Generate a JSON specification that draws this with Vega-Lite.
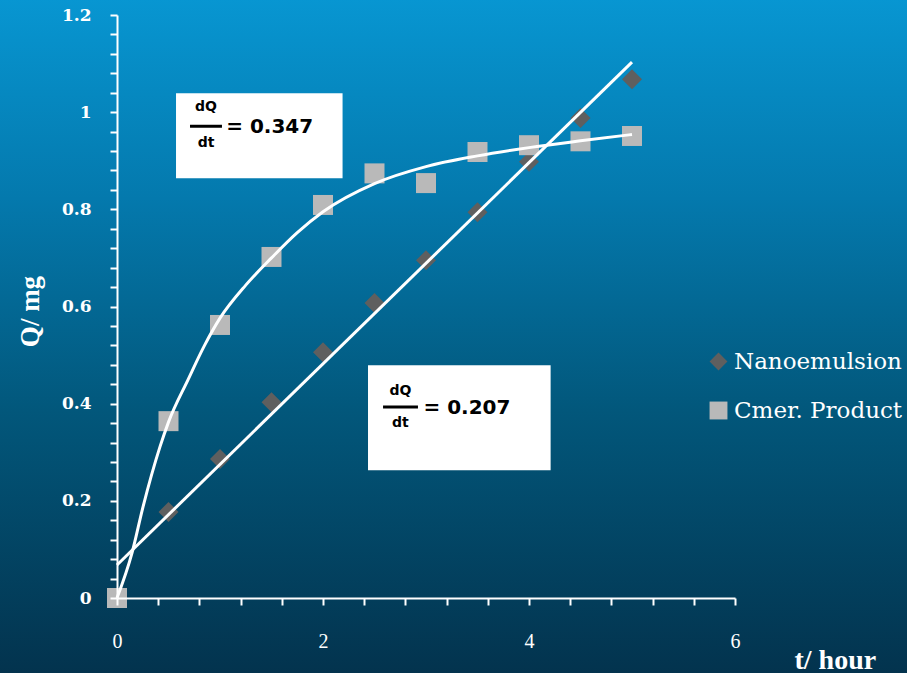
{
  "$schema": "https://vega.github.io/schema/vega-lite/v6.json",
  "autosize": {"type": "none"},
  "width": 618,
  "height": 583,
  "padding": {"left": 117, "top": 15, "right": 172, "bottom": 75},
  "background": "#03304a",
  "config": {"view": {"stroke": null}},
  "datasets": {
    "bg": [{"x": -1.2, "x2": 7.8, "y": 1.26, "y2": -0.2}],
    "boxes": [
      {"x": 0.573, "x2": 2.19, "y": 1.039, "y2": 0.864},
      {"x": 2.437, "x2": 4.21, "y": 0.479, "y2": 0.263}
    ],
    "fracs": [
      {"x": 0.709, "x2": 1.019, "y": 0.971},
      {"x": 2.583, "x2": 2.922, "y": 0.393}
    ],
    "smalltext": [
      {"x": 0.864, "y": 1.010, "label": "dQ"},
      {"x": 0.864, "y": 0.936, "label": "dt"},
      {"x": 2.752, "y": 0.426, "label": "dQ"},
      {"x": 2.752, "y": 0.360, "label": "dt"}
    ],
    "bigtext": [
      {"x": 1.06, "y": 0.969, "label": "= 0.347"},
      {"x": 2.975, "y": 0.391, "label": "= 0.207"}
    ],
    "points": [
      {"x": 0, "y": 0, "series": "Nanoemulsion"},
      {"x": 0.5, "y": 0.177, "series": "Nanoemulsion"},
      {"x": 1, "y": 0.286, "series": "Nanoemulsion"},
      {"x": 1.5, "y": 0.403, "series": "Nanoemulsion"},
      {"x": 2, "y": 0.506, "series": "Nanoemulsion"},
      {"x": 2.5, "y": 0.607, "series": "Nanoemulsion"},
      {"x": 3, "y": 0.695, "series": "Nanoemulsion"},
      {"x": 3.5, "y": 0.794, "series": "Nanoemulsion"},
      {"x": 4, "y": 0.898, "series": "Nanoemulsion"},
      {"x": 4.5, "y": 0.988, "series": "Nanoemulsion"},
      {"x": 5, "y": 1.068, "series": "Nanoemulsion"},
      {"x": 0, "y": 0, "series": "Cmer. Product"},
      {"x": 0.5, "y": 0.364, "series": "Cmer. Product"},
      {"x": 1, "y": 0.562, "series": "Cmer. Product"},
      {"x": 1.5, "y": 0.702, "series": "Cmer. Product"},
      {"x": 2, "y": 0.809, "series": "Cmer. Product"},
      {"x": 2.5, "y": 0.874, "series": "Cmer. Product"},
      {"x": 3, "y": 0.854, "series": "Cmer. Product"},
      {"x": 3.5, "y": 0.918, "series": "Cmer. Product"},
      {"x": 4, "y": 0.932, "series": "Cmer. Product"},
      {"x": 4.5, "y": 0.940, "series": "Cmer. Product"},
      {"x": 5, "y": 0.951, "series": "Cmer. Product"}
    ],
    "lines": [
      {"x": 0, "y": 0.068, "series": "linear"},
      {"x": 5, "y": 1.103, "series": "linear"},
      {"x": 0, "y": 0, "series": "curve"},
      {"x": 0.146, "y": 0.093, "series": "curve"},
      {"x": 0.252, "y": 0.187, "series": "curve"},
      {"x": 0.417, "y": 0.311, "series": "curve"},
      {"x": 0.5, "y": 0.362, "series": "curve"},
      {"x": 0.689, "y": 0.449, "series": "curve"},
      {"x": 0.85, "y": 0.52, "series": "curve"},
      {"x": 1, "y": 0.576, "series": "curve"},
      {"x": 1.25, "y": 0.644, "series": "curve"},
      {"x": 1.5, "y": 0.70, "series": "curve"},
      {"x": 1.75, "y": 0.752, "series": "curve"},
      {"x": 2, "y": 0.795, "series": "curve"},
      {"x": 2.5, "y": 0.853, "series": "curve"},
      {"x": 3, "y": 0.888, "series": "curve"},
      {"x": 3.5, "y": 0.910, "series": "curve"},
      {"x": 4, "y": 0.927, "series": "curve"},
      {"x": 4.5, "y": 0.941, "series": "curve"},
      {"x": 5, "y": 0.954, "series": "curve"}
    ]
  },
  "encoding": {
    "x": {
      "field": "x", "type": "quantitative",
      "scale": {"domain": [0, 6], "nice": false, "zero": false},
      "axis": {
        "zindex": 1,
        "values": [0, 0.4, 0.8, 1.2, 1.6, 2, 2.4, 2.8, 3.2, 3.6, 4, 4.4, 4.8, 5.2, 5.6, 6],
        "labelExpr": "(abs(datum.value/2 - round(datum.value/2)) < 0.001) ? format(datum.value, 'd') : ''",
        "grid": false,
        "domainColor": "white", "domainWidth": 2,
        "tickColor": "white", "tickWidth": 2, "tickSize": 7,
        "labelColor": "white", "labelFont": "Liberation Serif", "labelFontSize": 20,
        "labelPadding": 26, "labelFlush": false,
        "title": "t/ hour",
        "titleColor": "white", "titleFont": "Liberation Serif", "titleFontSize": 28, "titleFontWeight": "bold",
        "titleX": 677, "titleY": 62, "titleAlign": "left", "titleBaseline": "middle"
      }
    },
    "y": {
      "field": "y", "type": "quantitative",
      "scale": {"domain": [0, 1.2], "nice": false, "zero": false},
      "axis": {
        "zindex": 1,
        "values": [0, 0.04, 0.08, 0.12, 0.16, 0.2, 0.24, 0.28, 0.32, 0.36, 0.4, 0.44, 0.48, 0.52, 0.56, 0.6, 0.64, 0.68, 0.72, 0.76, 0.8, 0.84, 0.88, 0.92, 0.96, 1, 1.04, 1.08, 1.12, 1.16, 1.2],
        "labelExpr": "(abs(datum.value*5 - round(datum.value*5)) < 0.001) ? format(datum.value, '.1~f') : ''",
        "grid": false,
        "domainColor": "white", "domainWidth": 2,
        "tickColor": "white", "tickWidth": 2, "tickSize": 7,
        "labelColor": "white", "labelFont": "DejaVu Serif", "labelFontSize": 17, "labelFontWeight": "bold",
        "labelPadding": 19, "labelFlush": false,
        "title": "Q/ mg",
        "titleColor": "white", "titleFont": "Liberation Serif", "titleFontSize": 27, "titleFontWeight": "bold",
        "titleX": -87, "titleY": 296, "titleAngle": -90, "titleAlign": "center", "titleBaseline": "middle"
      }
    }
  },
  "layer": [
    {
      "data": {"name": "bg"},
      "mark": {
        "type": "rect",
        "fill": {
          "gradient": "linear", "x1": 0, "y1": 0, "x2": 0, "y2": 1,
          "stops": [
            {"offset": 0, "color": "#0898d4"},
            {"offset": 0.3, "color": "#0479ad"},
            {"offset": 0.6, "color": "#02577b"},
            {"offset": 1, "color": "#03304a"}
          ]
        }
      },
      "encoding": {"x2": {"field": "x2"}, "y2": {"field": "y2"}}
    },
    {
      "data": {"name": "boxes"},
      "mark": {"type": "rect", "fill": "white"},
      "encoding": {"x2": {"field": "x2"}, "y2": {"field": "y2"}}
    },
    {
      "data": {"name": "fracs"},
      "mark": {"type": "rule", "color": "black", "strokeWidth": 3},
      "encoding": {"x2": {"field": "x2"}}
    },
    {
      "data": {"name": "smalltext"},
      "mark": {"type": "text", "font": "DejaVu Sans", "fontSize": 14, "fontWeight": "bold", "color": "black", "align": "center", "baseline": "middle"},
      "encoding": {"text": {"field": "label"}}
    },
    {
      "data": {"name": "bigtext"},
      "mark": {"type": "text", "font": "DejaVu Sans", "fontSize": 20, "fontWeight": "bold", "color": "black", "align": "left", "baseline": "middle"},
      "encoding": {"text": {"field": "label"}}
    },
    {
      "data": {"name": "points"},
      "mark": {"type": "point", "filled": true, "opacity": 1, "size": 400},
      "encoding": {
        "color": {
          "field": "series", "type": "nominal",
          "scale": {"domain": ["Nanoemulsion", "Cmer. Product"], "range": ["#5f5f5f", "#b9b9b9"]},
          "legend": {
            "title": null, "orient": "none", "legendX": 590, "legendY": 335,
            "labelColor": "white", "labelFont": "DejaVu Serif", "labelFontSize": 23, "labelLimit": 400,
            "symbolSize": 320, "rowPadding": 25, "labelOffset": 4, "symbolStrokeWidth": 0
          }
        },
        "shape": {
          "field": "series", "type": "nominal",
          "scale": {"domain": ["Nanoemulsion", "Cmer. Product"], "range": ["diamond", "square"]},
          "legend": {
            "title": null, "orient": "none", "legendX": 590, "legendY": 335,
            "labelColor": "white", "labelFont": "DejaVu Serif", "labelFontSize": 23, "labelLimit": 400,
            "symbolSize": 320, "rowPadding": 25, "labelOffset": 4, "symbolStrokeWidth": 0
          }
        }
      }
    },
    {
      "data": {"name": "lines"},
      "mark": {"type": "line", "color": "white", "strokeWidth": 3, "interpolate": "monotone"},
      "encoding": {"detail": {"field": "series"}}
    }
  ]
}
